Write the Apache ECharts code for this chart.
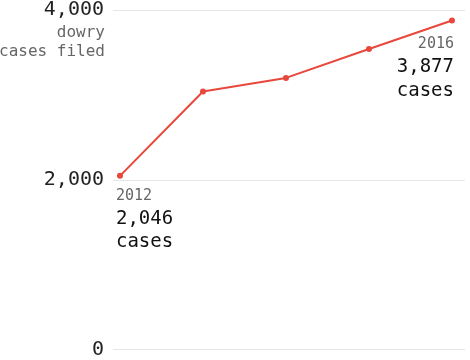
<!DOCTYPE html>
<html><head><meta charset="utf-8">
<script src="https://cdn.jsdelivr.net/npm/echarts@6/dist/echarts.min.js"></script>
<style>html,body{margin:0;padding:0;background:#fff}#c{width:470px;height:360px}</style>
</head><body><div id="c"></div>
<script>
const years = [2012, 2013, 2014, 2015, 2016];
const cases = [2046, 3040, 3200, 3540, 3877];
const yTicks = [0, 2000, 4000];
const axisTitle = ["dowry", "cases filed"];

const mono = "DejaVu Sans Mono";
const fmt = v => v.toLocaleString('en-US');
const last = years.length - 1;

const data = years.map((y, i) => {
  const item = { value: [y, cases[i]] };
  if (i === 0) {
    item.label = { show: true, position: [-1, 12], align: 'left', verticalAlign: 'top',
      formatter: `{y|${y}}\n{v|${fmt(cases[i])}}\n{c|cases}` };
  } else if (i === last) {
    item.label = { show: true, position: [5, 16], align: 'right', verticalAlign: 'top',
      formatter: `{y|${y}}\n{v|${fmt(cases[i])}}\n{c|cases}` };
  }
  return item;
});

const chart = echarts.init(document.getElementById('c'), null, { renderer: 'canvas' });
chart.setOption({
  animation: false,
  grid: { left: 113, right: 5, top: 9.5, bottom: 10.5 },
  xAxis: { type: 'value', min: 2011.916, max: 2016.157, show: false },
  yAxis: {
    type: 'value', min: yTicks[0], max: yTicks[yTicks.length - 1], interval: 2000,
    axisLine: { show: false }, axisTick: { show: false },
    splitLine: { lineStyle: { color: '#e6e6e6', width: 1 } },
    axisLabel: { fontFamily: mono, fontSize: 20, color: '#222', margin: 9,
      padding: [5, 0, 0, 0], formatter: v => fmt(v) }
  },
  graphic: axisTitle.map((t, i) => ({
    type: 'text', x: 105, y: 25 + i * 19,
    style: { text: t, font: `16px "${mono}"`, fill: '#666', align: 'right', verticalAlign: 'top' }
  })),
  series: [{
    type: 'line', data: data,
    lineStyle: { color: '#e8473b', width: 2 },
    itemStyle: { color: '#e8473b' },
    symbol: 'circle', symbolSize: 6,
    label: {
      show: false, fontFamily: mono,
      rich: {
        y: { fontFamily: mono, fontSize: 15, color: '#666', lineHeight: 22 },
        v: { fontFamily: mono, fontSize: 19, color: '#111', lineHeight: 24 },
        c: { fontFamily: mono, fontSize: 19, color: '#111', lineHeight: 23 }
      }
    }
  }]
});
</script></body></html>
